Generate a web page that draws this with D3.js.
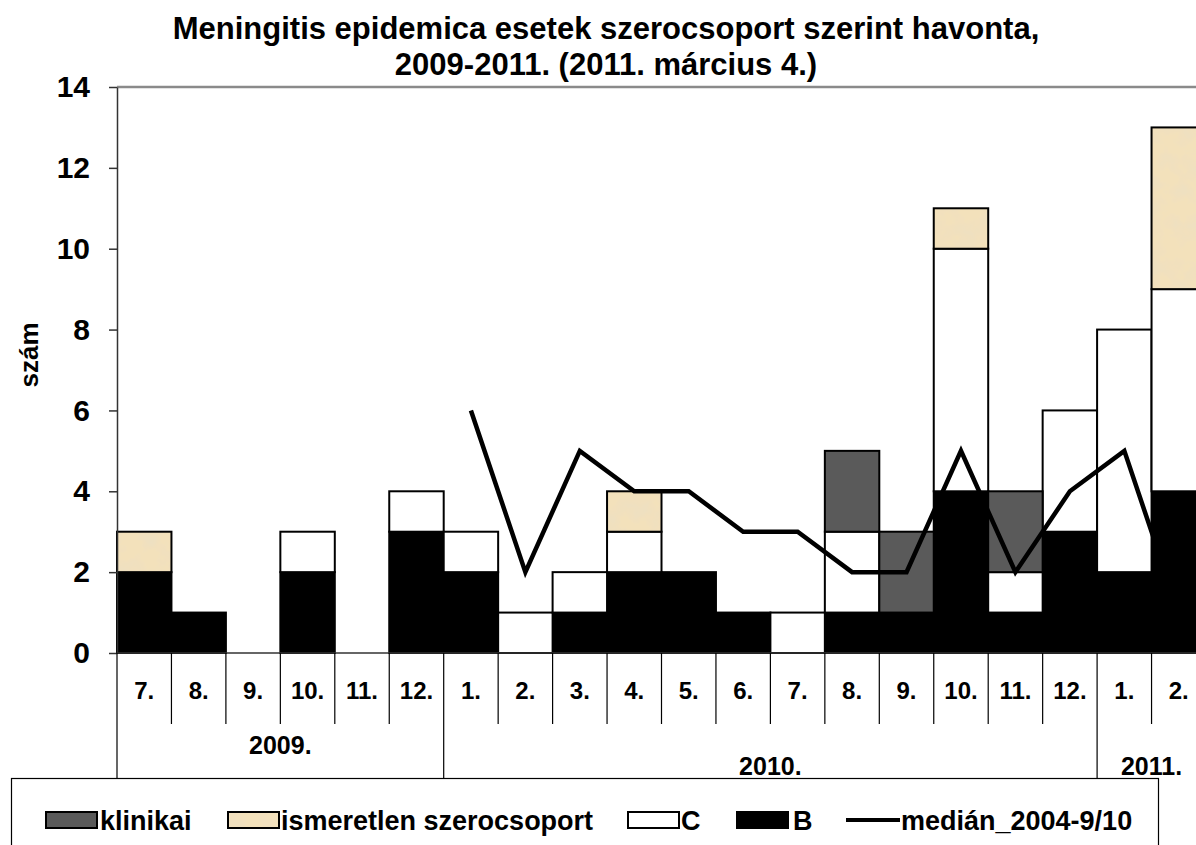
<!DOCTYPE html>
<html>
<head>
<meta charset="utf-8">
<script src="https://cdn.jsdelivr.net/npm/d3@7"></script>
<style>
  html, body { margin: 0; padding: 0; background: #ffffff; }
  svg { display: block; font-family: 'Liberation Sans', Arial, sans-serif; font-weight: bold; }
</style>
</head>
<body>
<div id="chart"></div>
<script>
// months on the axis (2009. 7. -> 2011. 2.)
var months = ['7.', '8.', '9.', '10.', '11.', '12.',
              '1.', '2.', '3.', '4.', '5.', '6.', '7.', '8.', '9.', '10.', '11.', '12.',
              '1.', '2.'];

// year groups under the months
var yearLabels = ['2009.', '2010.', '2011.'];
var yearFirst  = [0, 6, 18];
var yearLast   = [5, 17, 19];

// cases per serogroup
var valB          = [2, 1, 0, 2, 0, 3, 2, 0, 1, 2, 2, 1, 0, 1, 1, 4, 1, 3, 2, 4];
var valC          = [0, 0, 0, 1, 0, 1, 1, 1, 1, 1, 0, 0, 1, 2, 0, 6, 1, 3, 6, 5];
var valKlinikai   = [0, 0, 0, 0, 0, 0, 0, 0, 0, 0, 0, 0, 0, 2, 2, 0, 2, 0, 0, 0];
var valIsmeretlen = [1, 0, 0, 0, 0, 0, 0, 0, 0, 1, 0, 0, 0, 0, 0, 1, 0, 0, 0, 4];

// median 2004-9/10 (starts at 2010. 1.)
var valMedian = [null, null, null, null, null, null,
                 6, 2, 5, 4, 4, 3, 3, 2, 2, 5, 2, 4, 5, 1];

var yTicks = [0, 2, 4, 6, 8, 10, 12, 14];

(function( container )
{
  var width = 1196,
      height = 845,
      left = 117,
      top = 87,
      bottom = 653,
      band = 54.45,
      svg, defs, flt, x, y, rows, series, layers, line
  ;

  svg = d3.select( container )
    .append('svg')
      .attr('width', width)
      .attr('height', height);

  svg.append('rect')
    .attr('width', width)
    .attr('height', height)
    .attr('fill', '#ffffff');

  // parchment texture for the unknown serogroup
  defs = svg.append('defs');
  flt = defs.append('filter')
    .attr('id', 'paper')
    .attr('x', 0).attr('y', 0).attr('width', 1).attr('height', 1);
  flt.append('feTurbulence')
    .attr('type', 'fractalNoise')
    .attr('baseFrequency', 0.05)
    .attr('numOctaves', 4)
    .attr('seed', 7)
    .attr('result', 'noise');
  flt.append('feColorMatrix')
    .attr('in', 'noise')
    .attr('type', 'matrix')
    .attr('values', '0 0 0 0 0.84  0 0 0 0 0.74  0 0 0 0 0.55  1.6 0 0 0 -0.62')
    .attr('result', 'tint');
  flt.append('feFlood')
    .attr('flood-color', '#f3e1bb')
    .attr('result', 'base');
  flt.append('feComposite')
    .attr('in', 'tint')
    .attr('in2', 'base')
    .attr('operator', 'over')
    .attr('result', 'mix');
  flt.append('feComposite')
    .attr('in', 'mix')
    .attr('in2', 'SourceGraphic')
    .attr('operator', 'in');

  defs.append('pattern')
    .attr('id', 'paperFill')
    .attr('patternUnits', 'userSpaceOnUse')
    .attr('width', 400)
    .attr('height', 400)
    .append('rect')
      .attr('width', 400)
      .attr('height', 400)
      .attr('fill', '#f3e1bb')
      .attr('filter', 'url(#paper)');

  x = d3.scaleBand()
    .domain( d3.range( months.length ) )
    .range([ left, left + band * months.length ])
    .padding(0);

  y = d3.scaleLinear()
    .domain([ 0, 14 ])
    .range([ bottom, top ]);

  /*-- title --*/
  svg.append('text')
    .attr('x', 606).attr('y', 39)
    .attr('text-anchor', 'middle')
    .style('font-size', '31px')
    .text('Meningitis epidemica esetek szerocsoport szerint havonta,');
  svg.append('text')
    .attr('x', 606).attr('y', 75)
    .attr('text-anchor', 'middle')
    .style('font-size', '31px')
    .text('2009-2011. (2011. március 4.)');

  /*-- bars --*/
  rows = months.map( function( m, i )
  {
    return { i: i, B: valB[i], C: valC[i], klinikai: valKlinikai[i], ismeretlen: valIsmeretlen[i] };
  } );

  series = d3.stack().keys([ 'B', 'C', 'klinikai', 'ismeretlen' ])( rows );

  var fills = { B: '#000000', C: '#ffffff', klinikai: '#5a5a5a', ismeretlen: 'url(#paperFill)' };

  layers = svg.selectAll('g.layer')
    .data( series )
    .enter()
      .append('g')
      .attr('class', 'layer');

  layers.selectAll('rect')
    .data( function(d)
    {
      return d.map( function( p ) { p.key = d.key; return p; } )
              .filter( function( p ) { return p[1] > p[0]; } );
    } )
    .enter()
      .append('rect')
      .attr('x', function(d) { return x( d.data.i ); })
      .attr('width', x.bandwidth())
      .attr('y', function(d) { return y( d[1] ); })
      .attr('height', function(d) { return y( d[0] ) - y( d[1] ); })
      .attr('fill', function(d) { return fills[ d.key ]; })
      .attr('stroke', '#000000')
      .attr('stroke-width', 2);

  /*-- axes --*/
  // top border of the plot
  svg.append('line')
    .attr('x1', left).attr('x2', width)
    .attr('y1', y(14)).attr('y2', y(14))
    .attr('stroke', '#8a8a8a')
    .attr('stroke-width', 2.5);

  svg.append('g')
    .attr('transform', 'translate(' + left + ',0)')
    .call( d3.axisLeft( y ).tickValues( yTicks ).tickSize(8).tickSizeOuter(0).tickPadding(19) )
    .call( function( g )
    {
      g.select('.domain').attr('stroke', '#333333').attr('stroke-width', 1.5);
      g.selectAll('.tick line').attr('stroke', '#333333').attr('stroke-width', 1.5);
      g.selectAll('.tick text')
        .attr('fill', '#000000')
        .style('font-family', "'Liberation Sans', Arial, sans-serif")
        .style('font-weight', 'bold')
        .style('font-size', '30px');
    } );

  svg.append('line')
    .attr('x1', left).attr('x2', width)
    .attr('y1', bottom).attr('y2', bottom)
    .attr('stroke', '#333333')
    .attr('stroke-width', 1.5);

  svg.append('text')
    .attr('transform', 'translate(38,355) rotate(-90)')
    .attr('text-anchor', 'middle')
    .style('font-size', '26px')
    .text('szám');

  // month labels and separators
  var axisX = svg.append('g').attr('class', 'x-axis');

  axisX.selectAll('line.month')
    .data( d3.range( months.length + 1 ) )
    .enter()
      .append('line')
      .attr('class', 'month')
      .attr('x1', function(d) { return left + d * x.step(); })
      .attr('x2', function(d) { return left + d * x.step(); })
      .attr('y1', bottom)
      .attr('y2', function(d) { return yearFirst.indexOf( d ) >= 0 ? 778 : 724; })
      .attr('stroke', '#000000')
      .attr('stroke-width', 1.2);

  axisX.selectAll('text.month')
    .data( months )
    .enter()
      .append('text')
      .attr('class', 'month')
      .attr('x', function(d, i) { return x( i ) + x.bandwidth() / 2; })
      .attr('y', 699)
      .attr('text-anchor', 'middle')
      .style('font-size', '24px')
      .text(function(d) { return d; });

  axisX.selectAll('text.year')
    .data( yearLabels )
    .enter()
      .append('text')
      .attr('class', 'year')
      .attr('x', function(d, i)
      {
        return ( x( yearFirst[i] ) + x( yearLast[i] ) + x.bandwidth() ) / 2;
      } )
      .attr('y', function(d, i) { return i === 0 ? 754 : 775; })
      .attr('text-anchor', 'middle')
      .style('font-size', '25px')
      .text(function(d) { return d; });

  /*-- median line --*/
  line = d3.line()
    .defined(function(d) { return d !== null; })
    .x(function(d, i) { return x( i ) + x.bandwidth() / 2; })
    .y(function(d) { return y( d ); });

  svg.append('path')
    .datum( valMedian )
    .attr('d', line)
    .attr('fill', 'none')
    .attr('stroke', '#000000')
    .attr('stroke-width', 4.5)
    .attr('stroke-linejoin', 'miter');

  /*-- legend --*/
  var legend = svg.append('g').attr('class', 'legend');

  legend.append('rect')
    .attr('x', 11.5).attr('y', 778.5)
    .attr('width', 1147).attr('height', 90)
    .attr('fill', '#ffffff')
    .attr('stroke', '#000000')
    .attr('stroke-width', 1.2);

  var items = [
    { key: 'klinikai', label: 'klinikai', sx: 46, tx: 100 },
    { key: 'ismeretlen', label: 'ismeretlen szerocsoport', sx: 228, tx: 281 },
    { key: 'C', label: 'C', sx: 628, tx: 681 },
    { key: 'B', label: 'B', sx: 737, tx: 793 },
    { key: 'median', label: 'medián_2004-9/10', sx: 846, tx: 901 }
  ];

  items.forEach( function( it )
  {
    if( it.key === 'median' )
    {
      legend.append('line')
        .attr('x1', it.sx).attr('x2', it.sx + 54)
        .attr('y1', 820).attr('y2', 820)
        .attr('stroke', '#000000')
        .attr('stroke-width', 4);
    }
    else
    {
      legend.append('rect')
        .attr('x', it.sx).attr('y', 812)
        .attr('width', 51).attr('height', 16)
        .attr('fill', fills[ it.key ])
        .attr('stroke', '#000000')
        .attr('stroke-width', 2);
    }
    legend.append('text')
      .attr('x', it.tx).attr('y', 830)
      .style('font-size', '27px')
      .text( it.label );
  } );
})( document.getElementById('chart') );
</script>
</body>
</html>
